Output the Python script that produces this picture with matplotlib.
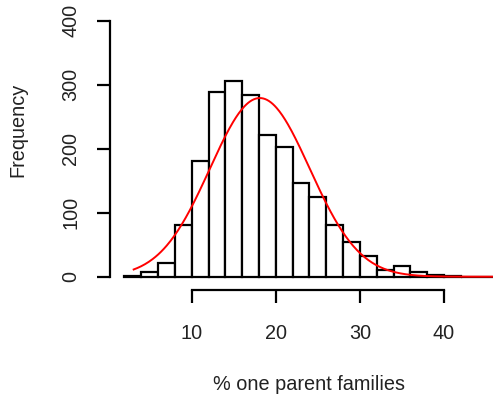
import numpy as np
import matplotlib
matplotlib.use("Agg")
import matplotlib.pyplot as plt

# Histogram of % one parent families, bins of width 2 starting at 2
bin_left = [2, 4, 6, 8, 10, 12, 14, 16, 18, 20, 22, 24, 26, 28, 30, 32, 34, 36, 38, 40, 42, 44, 46]
counts = [1, 7, 22, 81, 181, 288, 306, 284, 222, 202, 147, 125, 81, 54, 33, 10, 16, 7, 3, 1, 0, 0, 0]
bin_width = 2

# fitted normal curve parameters
fit_mean = 18.1
fit_sd = 5.92
fit_from, fit_to = 3.1, 48

x_ticks = [10, 20, 30, 40]
y_ticks = [0, 100, 200, 300, 400]

plt.rcParams['font.family'] = ['Liberation Sans', 'DejaVu Sans']

W, H = 493, 401
fig = plt.figure(figsize=(W / 100, H / 100), dpi=100)
# axes placed in pixel coordinates
left_px, right_px, top_px, bottom_px = 110, 493, 0, 290
ax = fig.add_axes([left_px / W, 1 - bottom_px / H, (right_px - left_px) / W, (bottom_px - top_px) / H])

ax.bar(bin_left, counts, width=bin_width, align='edge', color='white',
       edgecolor='black', linewidth=1.6, zorder=2)

# normal curve scaled to counts
n_total = sum(counts)
xs = np.linspace(fit_from, fit_to, 400)
ys = n_total * bin_width * np.exp(-0.5 * ((xs - fit_mean) / fit_sd) ** 2) / (fit_sd * np.sqrt(2 * np.pi))
ax.plot(xs, ys, color='#ff0000', linewidth=1.4, zorder=3)

ax.set_xlim(0.285, 45.83)
ax.set_ylim(-20.8, 432.3)

for s in ['top', 'right']:
    ax.spines[s].set_visible(False)
ax.spines['left'].set_bounds(0, 400)
ax.spines['bottom'].set_bounds(10, 40)
for s in ['left', 'bottom']:
    ax.spines[s].set_linewidth(1.6)
    ax.spines[s].set_color('black')

ax.set_xticks(x_ticks)
ax.set_yticks(y_ticks)
ax.set_yticklabels([str(v) for v in y_ticks], rotation=90, va='center')
ax.tick_params(axis='both', direction='out', length=9.4, width=1.6, labelsize=14.3,
               labelcolor='#222222')
ax.tick_params(axis='x', pad=15)
ax.tick_params(axis='y', pad=12)

fig.text(18 / W, 1 - 130 / H, 'Frequency', rotation=90, ha='center', va='center',
         fontsize=14.3, color='#222222')
fig.text(309 / W, 1 - 385 / H, '% one parent families', ha='center', va='center',
         fontsize=14.3, color='#222222')

fig.savefig('out.png', dpi=100)
